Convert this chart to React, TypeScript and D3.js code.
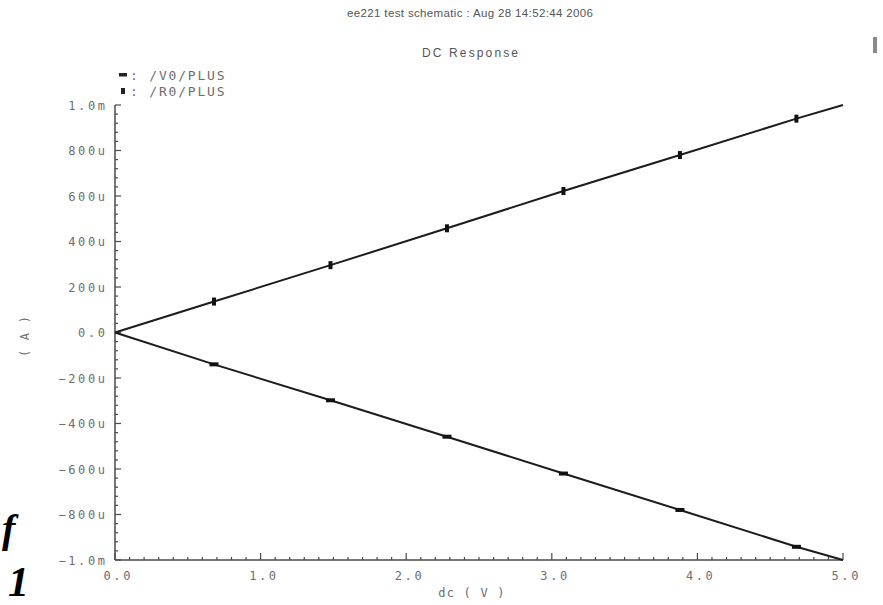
import React from "react"
import * as d3 from "d3"

// sweep values (dc source, volts) and the two branch currents (amps)
const dcVolts = [0, 0.68, 1.48, 2.28, 3.08, 3.88, 4.68, 5.0]
const r0Plus = [0, 136e-6, 296e-6, 458e-6, 622e-6, 780e-6, 940e-6, 1000e-6]
const v0Plus = [0, -140e-6, -298e-6, -458e-6, -620e-6, -780e-6, -942e-6, -1000e-6]

const xTickValues = [0, 1, 2, 3, 4, 5]
const xTickLabels = ["0.0", "1.0", "2.0", "3.0", "4.0", "5.0"]
const yTickValues = [-1e-3, -800e-6, -600e-6, -400e-6, -200e-6, 0, 200e-6, 400e-6, 600e-6, 800e-6, 1e-3]
const yTickLabels = ["−1.0m", "−800u", "−600u", "−400u", "−200u", "0.0", "200u", "400u", "600u", "800u", "1.0m"]

const titleText = "ee221 test schematic : Aug 28 14:52:44 2006"
const subTitle = "DC Response"
const legendNames = ["/V0/PLUS", "/R0/PLUS"]

const W = 883
const H = 605
const mono = "'DejaVu Sans Mono', monospace"
const sans = "'Liberation Sans', Arial, sans-serif"

export default function App() {
    const x = d3.scaleLinear().domain([0, 5]).range([115, 843])
    const y = d3.scaleLinear().domain([-1e-3, 1e-3]).range([560, 105])

    const line = d3.line<number>()
        .x((d, i) => x(dcVolts[i]))
        .y(d => y(d))

    const xMinor = d3.range(0, 51).map(i => i / 10)
    const yMinor = d3.range(-25, 26).map(i => i * 40e-6)

    const axisColor = "#4a4a4a"
    const labelColor = "#6e6e6e"
    const markIdx = [1, 2, 3, 4, 5, 6]
    const ls = 2.6

    return (
        <svg width={W} height={H} style={{ position: "absolute", left: 0, top: 0, background: "#fff" }}>
            {/* titles */}
            <text x={470} y={17} textAnchor="middle" fontFamily={sans} fontSize={11.5} fill="#555"
                textLength={246} lengthAdjust="spacing">{titleText}</text>
            <text x={470} y={57} textAnchor="middle" fontFamily={sans} fontSize={12} fill="#555"
                textLength={96} lengthAdjust="spacing">{subTitle}</text>

            {/* stray bar top right */}
            <rect x={873} y={37} width={4} height={16} fill="#8a8a8a" />

            {/* legend */}
            <rect x={119} y={73} width={8} height={3.5} fill="#222" />
            <rect x={121} y={88} width={4} height={6} fill="#222" />
            {legendNames.map((n, i) => (
                <text key={n} x={130} y={80 + i * 16} fontFamily={mono} fontSize={13} fill={labelColor}
                    letterSpacing={1.8} style={{ fontVariantNumeric: "slashed-zero" }}>{": " + n}</text>
            ))}

            {/* axes */}
            <line x1={x(0)} x2={x(0)} y1={y(1e-3)} y2={y(-1e-3)} stroke={axisColor} strokeWidth={1.5} />
            <line x1={x(0)} x2={x(5)} y1={y(-1e-3)} y2={y(-1e-3)} stroke={axisColor} strokeWidth={1.5} />
            {yMinor.map((v, i) => (
                <line key={"ym" + i} x1={x(0)} x2={x(0) + (i % 5 === 0 ? 6 : 3)} y1={y(v)} y2={y(v)}
                    stroke={axisColor} strokeWidth={1.2} />
            ))}
            {xMinor.map((v, i) => (
                <line key={"xm" + i} x1={x(v)} x2={x(v)} y1={y(-1e-3)} y2={y(-1e-3) - (i % 10 === 0 ? 7 : 3)}
                    stroke={axisColor} strokeWidth={1.2} />
            ))}
            {yTickValues.map((v, i) => (
                <text key={"yl" + i} x={105 + ls} y={y(v) + 4.5} textAnchor="end" fontFamily={mono} fontSize={12}
                    fill={labelColor} letterSpacing={ls} style={{ fontVariantNumeric: "slashed-zero" }}>{yTickLabels[i]}</text>
            ))}
            {xTickValues.map((v, i) => (
                <text key={"xl" + i} x={x(v) + 2 + ls / 2} y={580} textAnchor="middle" fontFamily={mono} fontSize={12}
                    fill={labelColor} letterSpacing={ls} style={{ fontVariantNumeric: "slashed-zero" }}>{xTickLabels[i]}</text>
            ))}

            {/* axis titles */}
            <text x={472} y={597} textAnchor="middle" fontFamily={mono} fontSize={12} fill={labelColor}
                letterSpacing={1.2}>dc ( V )</text>
            <text transform="translate(29,336) rotate(-90)" textAnchor="middle" fontFamily={mono} fontSize={12}
                fill={labelColor} letterSpacing={1.2}>( A )</text>

            {/* traces */}
            <path d={line(r0Plus) ?? ""} fill="none" stroke="#1c1c1c" strokeWidth={2} />
            <path d={line(v0Plus) ?? ""} fill="none" stroke="#1c1c1c" strokeWidth={2} />
            {markIdx.map(i => (
                <rect key={"rm" + i} x={x(dcVolts[i]) - 2} y={y(r0Plus[i]) - 4} width={4} height={8} fill="#111" />
            ))}
            {markIdx.map(i => (
                <rect key={"vm" + i} x={x(dcVolts[i]) - 4.5} y={y(v0Plus[i]) - 2} width={9} height={4} fill="#111" />
            ))}

            {/* stray document glyphs at lower left */}
            <text x={2} y={542} fontFamily="'Liberation Serif', serif" fontStyle="italic" fontWeight="bold"
                fontSize={40} fill="#000">f</text>
            <text x={8} y={596} fontFamily="'Liberation Serif', serif" fontStyle="italic" fontWeight="bold"
                fontSize={42} fill="#000">1</text>
        </svg>
    )
}
